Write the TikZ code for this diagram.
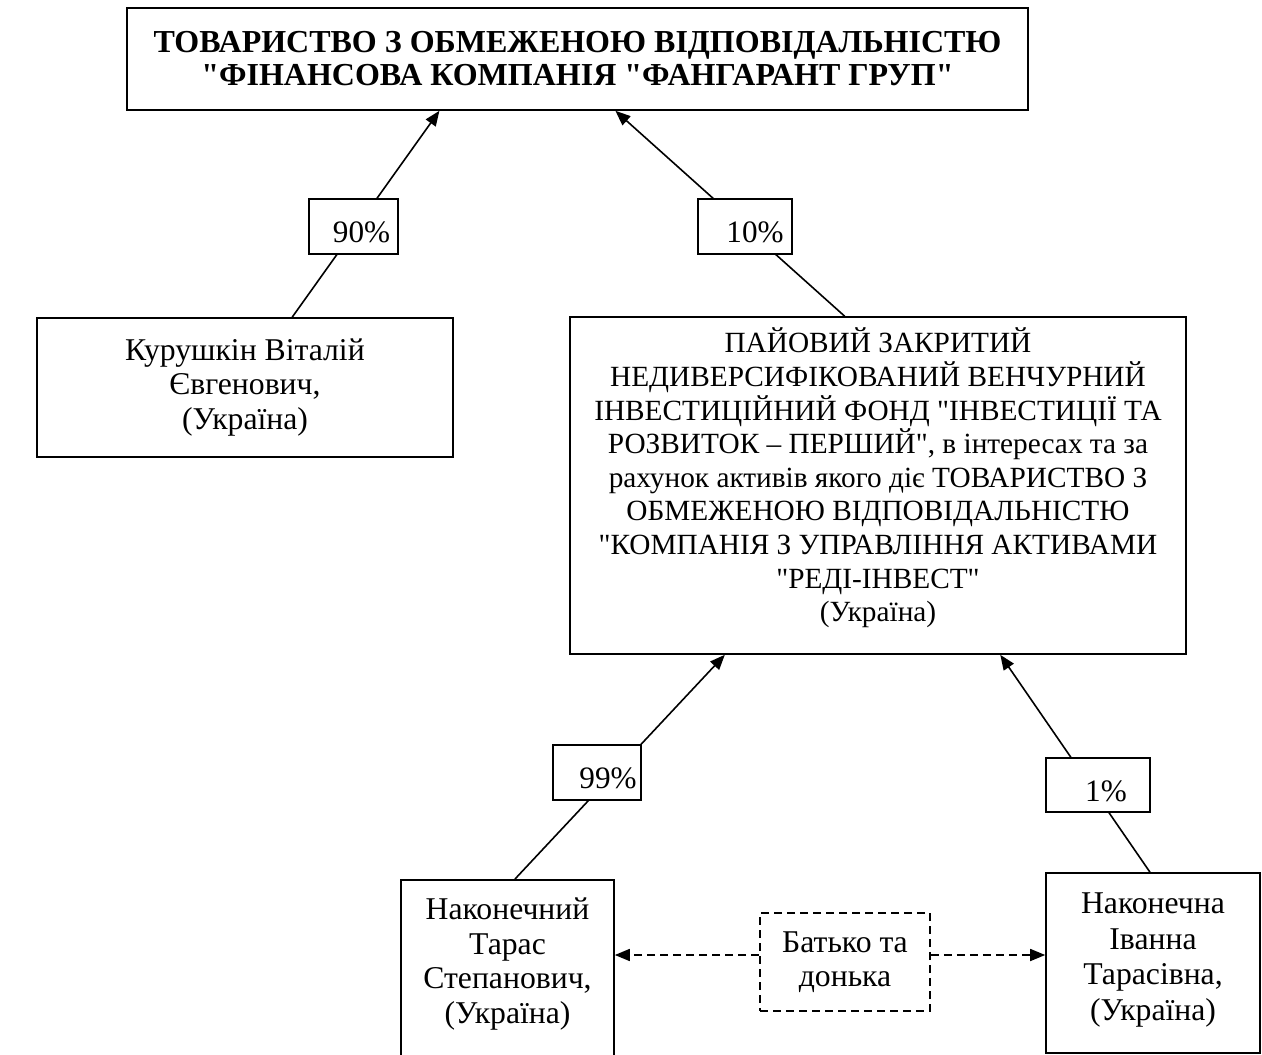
\documentclass[tikz,border=0pt]{standalone}
\usepackage{fontspec}
\setmainfont{Liberation Serif}[Ligatures=TeXOff]
\usetikzlibrary{arrows.meta,calc}
\begin{document}
\begin{tikzpicture}[x=1pt,y=-1pt,
  box/.style={draw, line width=1.6pt, inner sep=0pt},
  txt/.style={align=center, inner sep=0pt, font=\fontsize{31.7}{34.5}\selectfont},
  pct/.style={box, fill=white, font=\fontsize{31.2}{34}\selectfont},
  link/.style={line width=1.6pt},
  arr/.style={link, -{Triangle[length=15pt,width=12pt]}},
  relline/.style={line width=1.6pt, dash pattern=on 8pt off 5pt, -{Triangle[length=15pt,width=12pt]}},
  relbox/.style={draw, line width=1.6pt, dash pattern=on 8pt off 5pt, inner sep=0pt, fill=white}]
\useasboundingbox (0,0) rectangle (1262,1055);
\fill[white] (0,0) rectangle (1262,1055);

% boxes
\node[box, txt, minimum width=901pt, minimum height=102pt, font=\fontsize{32}{33}\selectfont\bfseries] (top) at (577.5,59)
  {ТОВАРИСТВО З ОБМЕЖЕНОЮ ВІДПОВІДАЛЬНІСТЮ\\"ФІНАНСОВА КОМПАНІЯ "ФАНГАРАНТ ГРУП"};
\node[box, txt, minimum width=416pt, minimum height=139pt] (kur) at (245,387.5)
  {Курушкін Віталій\\Євгенович,\\(Україна)};
\node[box, minimum width=616pt, minimum height=337pt] (fund) at (878,485.5) {};
\node[txt, font=\fontsize{29.3}{33.6}\selectfont] (fundtxt) at (878,478)
  {ПАЙОВИЙ ЗАКРИТИЙ\\НЕДИВЕРСИФІКОВАНИЙ ВЕНЧУРНИЙ\\ІНВЕСТИЦІЙНИЙ ФОНД "ІНВЕСТИЦІЇ ТА\\РОЗВИТОК – ПЕРШИЙ", в інтересах та за\\рахунок активів якого діє ТОВАРИСТВО З\\ОБМЕЖЕНОЮ ВІДПОВІДАЛЬНІСТЮ\\"КОМПАНІЯ З УПРАВЛІННЯ АКТИВАМИ\\"РЕДІ-ІНВЕСТ"\\(Україна)};
\node[box, anchor=north, minimum width=213pt, minimum height=220pt] (nak) at (507.5,879) {};
\node[txt] (naktxt) at (507.5,964) {Наконечний\\Тарас\\Степанович,\\(Україна)};
\node[box, minimum width=214pt, minimum height=180pt] (ivn) at (1153,963) {};
\node[txt, font=\fontsize{31.7}{35.5}\selectfont] (ivntxt) at (1153,960) {Наконечна\\Іванна\\Тарасівна,\\(Україна)};

% connectors
\draw[arr] ($(kur.north west)!0.613!(kur.north east)$) -- ($(top.south west)!0.347!(top.south east)$);
\draw[arr] ($(fund.north west)!0.446!(fund.north east)$) -- ($(top.south west)!0.542!(top.south east)$);
\draw[arr] ($(nak.north west)!0.535!(nak.north east)$) -- ($(fund.south west)!0.252!(fund.south east)$);
\draw[arr] ($(ivn.north west)!0.486!(ivn.north east)$) -- ($(fund.south west)!0.698!(fund.south east)$);

% percentage labels
\node[pct, minimum width=89pt, minimum height=55pt] (p90) at (353.5,226.5) {\hspace*{16pt}\raisebox{-16pt}[0pt][0pt]{90\%}};
\node[pct, minimum width=94pt, minimum height=55pt] (p10) at (745,226.5) {\hspace*{20pt}\raisebox{-16pt}[0pt][0pt]{10\%}};
\node[pct, minimum width=88pt, minimum height=55pt] (p99) at (597,772.5) {\hspace*{22pt}\raisebox{-16pt}[0pt][0pt]{99\%}};
\node[pct, minimum width=104pt, minimum height=54pt] (p1) at (1098,785) {\hspace*{16pt}\raisebox{-16pt}[0pt][0pt]{1\%}};

% relation
\node[relbox, txt, minimum width=170pt, minimum height=98pt] (rel) at (845,962) {Батько та\\донька};
\coordinate (relL) at ($(rel.west)+(0,-7)$);
\coordinate (relR) at ($(rel.east)+(0,-7)$);
\draw[relline] (relL) -- (relL -| nak.east);
\draw[relline] (relR) -- (relR -| ivn.west);
\end{tikzpicture}
\end{document}
